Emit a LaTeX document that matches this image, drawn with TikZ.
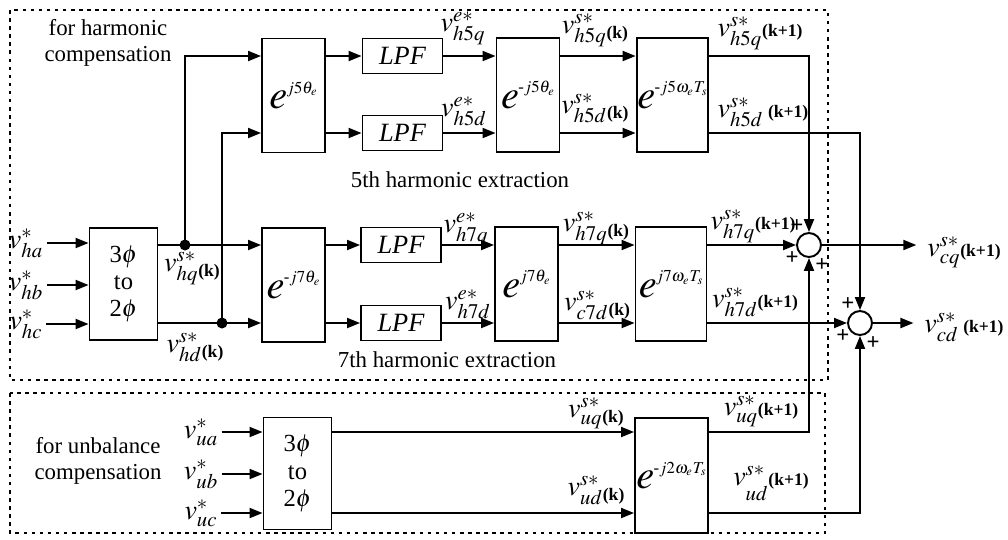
\documentclass[tikz,border=0pt]{standalone}
\usepackage{mathptmx}
\usepackage[no-math]{fontspec}
\setmainfont{Liberation Serif}
\usetikzlibrary{arrows.meta}
\newcommand{\ee}[1]{{\fontsize{23}{23}\selectfont$e$}\kern-0.5pt\raisebox{3.1mm}{\fontsize{9.5}{9.5}\selectfont #1}}
\newcommand{\kf}{\fontsize{10}{10}\selectfont\bfseries}
\newcommand{\vk}[2]{$v^{#2}_{#1}$\raisebox{-1mm}{\kf(k)}}
\newcommand{\vkk}[2]{$v^{#2}_{#1}$\kf(k+1)}

\begin{document}
\begin{tikzpicture}[x=0.02cm, y=-0.02cm,
  blk/.style={draw, line width=1.1pt, minimum width=1.26cm, minimum height=2.28cm, inner xsep=0.5pt, inner ysep=0pt},
  abc/.style={draw, line width=1.1pt, minimum width=1.36cm, minimum height=2.24cm, align=center, font=\fontsize{14}{15.5}\selectfont},
  lpf/.style={draw, line width=1.1pt, minimum width=1.6cm, minimum height=0.7cm, inner sep=0pt, font=\fontsize{15}{15}\selectfont\itshape},
  sumc/.style={draw, circle, line width=1.1pt, minimum size=0.48cm, inner sep=0pt},
  dot/.style={circle, fill, minimum size=0.22cm, inner sep=0pt},
  arr/.style={line width=1.1pt, -{Triangle[length=2.6mm,width=2mm]}},
  grp/.style={line width=1pt, dash pattern=on 2pt off 2.6pt},
  lab/.style={font=\fontsize{16}{16}\selectfont, inner sep=0pt, outer sep=2pt},
  txt/.style={font=\fontsize{13}{15}\selectfont, align=center, inner sep=0pt},
  pl/.style={font=\fontsize{13}{13}\selectfont\bfseries, inner sep=0pt}]
\useasboundingbox (0,0) rectangle (1008,539);
\draw[grp] (10,10) rectangle (828,380);
\draw[grp] (10,393) rectangle (825,533);

\node[txt] (harm) at (108,43) {for harmonic\\compensation};
\node[txt] (unb) at (98,461) {for unbalance\\compensation};
\node[txt] (x5) at (460,180) {5th harmonic extraction};
\node[txt] (x7) at (447,360) {7th harmonic extraction};

\node[abc] (abch) at (123.5,284) {3$\phi$\\to\\2$\phi$};
\node[blk] (rot5) at (293.5,95.5) {\ee{$j5\theta_e$}};
\node[lpf] (lpf5q) at (402.5,56) {LPF};
\node[lpf] (lpf5d) at (402.5,133) {LPF};
\node[blk] (irot5) at (528,95) {\ee{-$j5\theta_e$}};
\node[blk, minimum width=1.42cm] (pred5) at (672.5,95) {\ee{-$j5\omega_e T_s$}};
\node[blk] (rot7) at (293.5,285) {\ee{-$j7\theta_e$}};
\node[lpf] (lpf7q) at (401,245) {LPF};
\node[lpf] (lpf7d) at (401,323) {LPF};
\node[blk] (irot7) at (526.5,284) {\ee{$j7\theta_e$}};
\node[blk, minimum width=1.42cm] (pred7) at (671,284) {\ee{$j7\omega_e T_s$}};
\node[abc] (abcu) at (297.5,473.5) {3$\phi$\\to\\2$\phi$};
\node[blk, minimum width=1.46cm, minimum height=2.3cm] (pred2) at (671.5,475.5) {\ee{-$j2\omega_e T_s$}};

\node[dot] (jq) at (185,245) {};
\node[dot] (jd) at (222,323) {};
\node[sumc] (sum1) at (809,245) {};
\node[sumc] (sum2) at (860,323) {};

\node[lab] (vha) at (26,243) {$v^*_{ha}$};
\node[lab] (vhb) at (26,285) {$v^*_{hb}$};
\node[lab] (vhc) at (26,324) {$v^*_{hc}$};
\node[lab] (vua) at (201,432) {$v^*_{ua}$};
\node[lab] (vub) at (201,474) {$v^*_{ub}$};
\node[lab] (vuc) at (201,513) {$v^*_{uc}$};
\node[lab] (vcq) at (964,252) {\vkk{cq}{s*}};
\node[lab] (vcd) at (964,327) {$v^{s*}_{cd}$\,\kf(k+1)};

\node[lab] (l5qe) at (463,28) {$v^{e*}_{h5q}$};
\node[lab] (l5de) at (464,111) {$v^{e*}_{h5d}$};
\node[lab] (l5qs) at (595,30) {\vk{h5q}{s*}};
\node[lab] (l5ds) at (595,108) {\vk{h5d}{s*}};
\node[lab] (l5qk) at (760,33) {\vkk{h5q}{s*}};
\node[lab] (l5dk) at (763,112) {$v^{s*}_{h5d}$\,\kf(k+1)};
\node[lab] (lhq) at (192,268) {\vk{hq}{s*}};
\node[lab] (lhd) at (195,347) {\vk{hd}{s*}};
\node[lab] (l7qe) at (466,229) {$v^{e*}_{h7q}$};
\node[lab] (l7de) at (468,304) {$v^{e*}_{h7d}$};
\node[lab] (l7qs) at (596,228) {\vk{h7q}{s*}};
\node[lab] (l7ds) at (597,305) {\vk{c7d}{s*}};
\node[lab] (l7qk) at (753,226) {\vkk{h7q}{s*}};
\node[lab] (l7dk) at (755,302) {\vkk{h7d}{s*}};
\node[lab] (luqs) at (596,413) {\vk{uq}{s*}};
\node[lab] (luds) at (596,490) {\vk{ud}{s*}};
\node[lab] (luqk) at (761,411) {\vkk{uq}{s*}};
\node[lab] (ludk) at (771,483) {$v^{s*}_{\raisebox{-1.5mm}{$\scriptstyle ud$}}$\kf(k+1)};

\foreach \s in {sum1,sum2} {
  \node[pl] (\s-a) at ([shift={(-12,-19)}]\s) {+};
  \node[pl] (\s-b) at ([shift={(-17,13)}]\s) {+};
  \node[pl] (\s-c) at ([shift={(13,20)}]\s) {+};
}

\foreach \i in {vha,vhb,vhc} \draw[arr] (\i) -- (\i -| abch.west);
\foreach \i in {vua,vub,vuc} \draw[arr] (\i) -- (\i -| abcu.west);
\draw[arr] (abch.east |- jq) -- (rot7.west |- jq);
\draw[arr] (abch.east |- jd) -- (rot7.west |- jd);
\draw[arr] (jq.center) |- (rot5.west |- lpf5q);
\draw[arr] (jd.center) |- (rot5.west |- lpf5d);
\foreach \r in {5,7} {
  \foreach \c in {q,d} {
    \draw[arr] (rot\r.east |- lpf\r\c) -- (lpf\r\c);
    \draw[arr] (lpf\r\c) -- (irot\r.west |- lpf\r\c);
    \draw[arr] (irot\r.east |- lpf\r\c) -- (pred\r.west |- lpf\r\c);
  }
}
\draw[arr] (pred5.east |- lpf5q) -| (sum1);
\draw[arr] (pred5.east |- lpf5d) -| (sum2);
\draw[arr] (pred7.east |- lpf7q) -- (sum1);
\draw[arr] (pred7.east |- lpf7d) -- (sum2);
\draw[arr] (abcu.east |- vua) -- (pred2.west |- vua);
\draw[arr] (abcu.east |- vuc) -- (pred2.west |- vuc);
\draw[arr] (pred2.east |- vua) -| (sum1);
\draw[arr] (pred2.east |- vuc) -| (sum2);
\draw[arr, shorten >=1.5mm] (sum1) -- (sum1 -| vcq.west);
\draw[arr, shorten >=1.5mm] (sum2) -- (sum2 -| vcd.west);
\end{tikzpicture}
\end{document}
